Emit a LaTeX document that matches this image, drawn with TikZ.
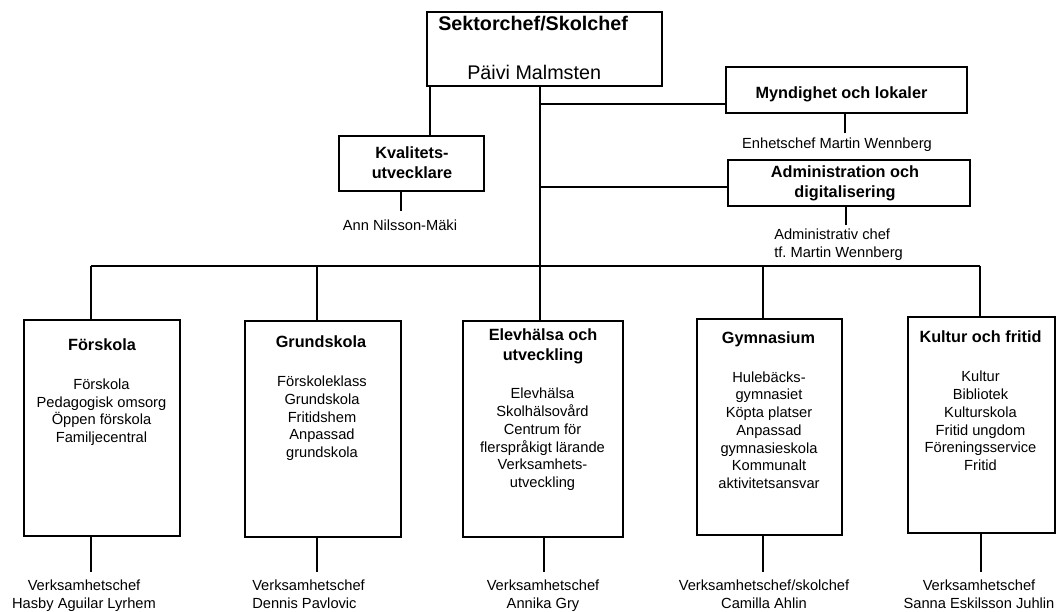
\documentclass[tikz,border=0pt]{standalone}
\usepackage{fontspec}
\setmainfont{Liberation Sans}
\usetikzlibrary{fit}
\frenchspacing
\begin{document}
\begin{tikzpicture}[x=0.75pt,y=-0.75pt,
  box/.style={draw, line width=0.8pt, inner sep=0pt},
  ln/.style={line width=0.8pt},
  hd/.style={font=\bfseries\fontsize{12.2}{14.8}\selectfont, align=center, anchor=base, inner sep=0pt},
  big/.style={font=\fontsize{14.8}{17}\selectfont, anchor=base west, inner sep=0pt},
  bigb/.style={font=\bfseries\fontsize{14.8}{17}\selectfont, anchor=base west, inner sep=0pt},
  tx/.style={font=\fontsize{11}{13.3}\selectfont, align=center, anchor=base, inner sep=0pt},
  txl/.style={font=\fontsize{11}{13.3}\selectfont, align=left, anchor=base west, inner sep=0pt}]
\useasboundingbox (0,0) rectangle (1056,611);

% boxes
\node[box, fit={(427,12) (662,86)}] (top) {};
\node[box, fit={(339,136) (484,191)}] (kv) {};
\node[box, fit={(726,67) (967,113)}] (myn) {};
\node[box, fit={(728,160) (970,206)}] (adm) {};
\node[box, fit={(24,320) (180,536)}] (fs) {};
\node[box, fit={(245,321) (401,537)}] (gs) {};
\node[box, fit={(463,321) (623,537)}] (eh) {};
\node[box, fit={(697,319) (842,535)}] (gy) {};
\node[box, fit={(908,317) (1055,533)}] (ku) {};

% texts top (anchor base = baseline of the last line)
\node[bigb] (topt) at (438,30) {Sektorchef/Skolchef};
\node[big] (topn) at (467,79) {Päivi Malmsten};

\node[hd] (kvt) at (412,178) {Kvalitets-\\utvecklare};
\node[tx] (kvn) at (400,230) {Ann Nilsson-Mäki};

\node[hd] (mynt) at (841.5,98) {Myndighet och lokaler};
\node[tx] (mynn) at (837,148) {Enhetschef Martin Wennberg};

\node[hd] (admt) at (845,197) {Administration och\\digitalisering};
\node[txl] (admn) at (774,257) {Administrativ chef\\tf.\ Martin Wennberg};

% unit headers and lists
\node[hd] (fst) at (102,350) {Förskola};
\node[tx] (fsl) at (101.5,442.5) {Förskola\\Pedagogisk omsorg\\Öppen förskola\\Familjecentral};

\node[hd] (gst) at (321,347) {Grundskola};
\node[tx] (gsl) at (322,457.5) {Förskoleklass\\Grundskola\\Fritidshem\\Anpassad\\grundskola};

\node[hd] (eht) at (543,360.5) {Elevhälsa och\\utveckling};
\node[tx] (ehl) at (542.5,487.5) {Elevhälsa\\Skolhälsovård\\Centrum för\\flerspråkigt lärande\\Verksamhets-\\utveckling};

\node[hd] (gyt) at (768.5,343) {Gymnasium};
\node[tx] (gyl) at (769,488.5) {Hulebäcks-\\gymnasiet\\Köpta platser\\Anpassad\\gymnasieskola\\Kommunalt\\aktivitetsansvar};

\node[hd] (kut) at (980.5,342) {Kultur och fritid};
\node[tx] (kul) at (980.5,470.5) {Kultur\\Bibliotek\\Kulturskola\\Fritid ungdom\\Föreningsservice\\Fritid};

% bottom names
\node[tx] (fsn) at (84,608) {Verksamhetschef\\Hasby Aguilar Lyrhem};
\node[txl] (gsn) at (252,608) {Verksamhetschef\\Dennis Pavlovic};
\node[tx] (ehn) at (543,608) {Verksamhetschef\\Annika Gry};
\node[tx] (gyn) at (764,608) {Verksamhetschef/skolchef\\Camilla Ahlin};
\node[tx] (kun) at (979,608) {Verksamhetschef\\Sanna Eskilsson Juhlin};

% helper coordinates
\coordinate (xk) at (430,0);
\coordinate (xt) at (540,0);
\coordinate (ym) at (0,104);
\coordinate (ya) at (0,187);
\coordinate (bl) at (91,266);
\coordinate (br) at (980,266);

% connectors
\draw[ln] (xk |- top.south) -- (xk |- kv.north);
\draw[ln] (xt |- top.south) -- (xt |- eh.north);
\draw[ln] (xt |- ym) -- (myn.west |- ym);
\draw[ln] (xt |- ya) -- (adm.west |- ya);
\draw[ln] (myn.south -| 845,0) -- (845,133);
\draw[ln] (adm.south -| 846,0) -- (846,225);
\draw[ln] (kv.south -| 401,0) -- (401,211);
\draw[ln] (bl) -- (br);
\draw[ln] (bl) -- (bl |- fs.north);
\draw[ln] (317,266) -- (317,266 |- gs.north);
\draw[ln] (763,266) -- (763,266 |- gy.north);
\draw[ln] (br) -- (br |- ku.north);
\draw[ln] (fs.south -| 91,0) -- (91,572);
\draw[ln] (gs.south -| 317,0) -- (317,572);
\draw[ln] (eh.south -| 544,0) -- (544,572);
\draw[ln] (gy.south -| 763,0) -- (763,572);
\draw[ln] (ku.south -| 981,0) -- (981,572);
\end{tikzpicture}
\end{document}
